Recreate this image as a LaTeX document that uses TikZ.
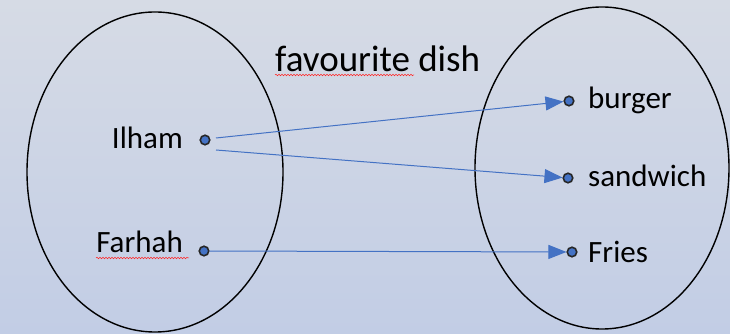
\documentclass[tikz,border=0pt]{standalone}
\usepackage{fontspec}
\setmainfont{Carlito}
\usetikzlibrary{arrows.meta,decorations.pathmorphing}
\definecolor{bgtop}{RGB}{214,219,229}
\definecolor{bgbot}{RGB}{194,205,229}
\definecolor{linkblue}{RGB}{68,114,196}

\begin{document}
\begin{tikzpicture}[x=1pt,y=1pt,
  dot/.style={circle,draw=black!85,fill=linkblue,line width=1.6pt,inner sep=0pt,minimum size=9.5pt},
  lbl/.style={inner sep=0pt,font=\fontsize{31}{31}\selectfont},
  link/.style={draw=linkblue,line width=1pt,-{Triangle[length=18pt,width=14pt]}},
  squiggle/.style={draw=red!85,line width=0.5pt,decorate,decoration={snake,amplitude=0.8pt,segment length=3pt}}]
\useasboundingbox (0,0) rectangle (730,334);
\fill[top color=bgtop,bottom color=bgbot] (0,0) rectangle (730,334);

% the two sets
\draw[line width=1.4pt] (155,162) ellipse (128 and 160);
\draw[line width=1.4pt] (602,166) ellipse (127 and 161);

% left side
\node[dot] (ilham) at (205,194) {};
\node[dot] (farhah) at (204,83) {};
\node[lbl,anchor=base east] (ilhamtxt) at (183,185) {Ilham};
\node[lbl,anchor=base east] (farhahtxt) at (183,81) {Farhah};

% right side
\node[dot] (burger) at (569,233) {};
\node[dot] (sandwich) at (568,156) {};
\node[dot] (fries) at (572,82) {};
\node[lbl,anchor=base west] (burgertxt) at (588,225) {burger};
\node[lbl,anchor=base west] (sandwichtxt) at (588,147) {sandwich};
\node[lbl,anchor=base west] (friestxt) at (588,71) {Fries};

\node[inner sep=0pt,anchor=base west,font=\fontsize{37}{37}\selectfont] (title) at (275,262) {favourite dish};

% spell-check marks
\draw[squiggle] (275,259) -- (414,259);
\draw[squiggle] (96,76) -- (189,76);

% the mapping
\coordinate (out1) at (216,196);
\coordinate (out2) at (216,184);
\draw[link] (out1) -- (burger);
\draw[link] (out2) -- (sandwich);
\draw[link] (farhah) -- (fries);
\end{tikzpicture}
\end{document}
